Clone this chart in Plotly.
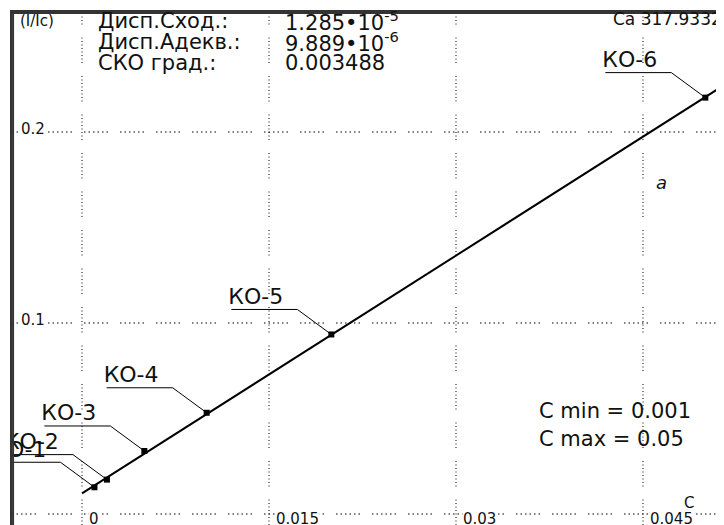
import numpy as np
import plotly.graph_objects as go

# ---------------- data ----------------
point_labels = ["КО-1", "КО-2", "КО-3", "КО-4", "КО-5", "КО-6"]
conc = [0.001, 0.002, 0.005, 0.010, 0.020, 0.050]
ratio = [0.014, 0.018, 0.033, 0.053, 0.094, 0.218]

x_ticks = [0, 0.015, 0.03, 0.045]
x_tick_labels = ["0", "0.015", "0.03", "0.045"]
y_ticks = [0, 0.1, 0.2]
y_tick_labels = ["", "0.1", "0.2"]

stat_names = ["Дисп.Сход.:", "Дисп.Адекв.:", "СКО град.:"]
stat_values = ["1.285•10<sup>-5</sup>", "9.889•10<sup>-6</sup>", "0.003488"]
line_name = "Ca 317.9332"
c_limits = ["C min = 0.001", "C max = 0.05"]
y_title = "(I/Ic)"
x_title = "C"
panel_tag = "a"

# ---------------- geometry ----------------
# page body has an 8px margin; plot area should span page px x 12..724, y 12..525
BODY = 8
W, H = 724 - BODY, 525 - BODY
ML, MT, MR, MB = 4, 4, 0, 0
PX0, PY0 = BODY + ML, BODY + MT
PW, PH = W - ML - MR, H - MT - MB
x_range = [-0.005615, 0.051496]
y_range = [-0.00576, 0.26283]
sx = PW / (x_range[1] - x_range[0])
sy = PH / (y_range[1] - y_range[0])

def px2data(px, py):
    return x_range[0] + (px - PX0) / sx, y_range[1] - (py - PY0) / sy

def data2px(x, y):
    return PX0 + (x - x_range[0]) * sx, PY0 + (y_range[1] - y) * sy

def pp(px, py):
    return (px - PX0) / PW, 1 - (py - PY0) / PH

FONT = "DejaVu Sans"
INK = "#111111"

fig = go.Figure()

# ---------------- grid ----------------
hdash = ",".join(["1.5px,3px"] * 5 + ["1.5px,12px"])
vdash = ",".join(["1px,2.5px"] * 7 + ["1px,13px"])
shapes = []
for xv in x_ticks:
    shapes.append(dict(type="line", xref="x", yref="paper", x0=xv, x1=xv, y0=0, y1=1,
                       line=dict(color="#000000", width=1, dash=vdash), layer="below"))
for yv in y_ticks:
    shapes.append(dict(type="line", xref="paper", yref="y", x0=0, x1=1, y0=yv, y1=yv,
                       line=dict(color="#000000", width=1, dash=hdash), layer="below"))
# frame (left and top)
shapes.append(dict(type="line", xref="paper", yref="paper", x0=0.0015, x1=0.0015, y0=0, y1=1,
                   line=dict(color="#333333", width=2)))
shapes.append(dict(type="line", xref="paper", yref="paper", x0=0, x1=1, y0=0.998, y1=0.998,
                   line=dict(color="#333333", width=2)))

# ---------------- regression line ----------------
slope, intercept = np.polyfit(conc, ratio, 1)
lx = np.array([0.0, x_range[1]])
fig.add_trace(go.Scatter(x=lx, y=slope * lx + intercept, mode="lines",
                         line=dict(color="#000000", width=2), hoverinfo="skip",
                         showlegend=False))

# ---------------- leader lines / underlines ----------------
LDX, LDY, ULEN = -34, -25, 66
lxs, lys, tx, ty = [], [], [], []
for x, y in zip(conc, ratio):
    px, py = data2px(x, y)
    rx, ry = px + LDX, py + LDY
    lx0 = rx - ULEN
    for (a, b) in [(lx0, ry), (rx, ry), (px, py)]:
        dx, dy = px2data(a, b)
        lxs.append(dx); lys.append(dy)
    lxs.append(None); lys.append(None)
    t = px2data(lx0 - 3, ry)
    tx.append(t[0]); ty.append(t[1])

fig.add_trace(go.Scatter(x=lxs, y=lys, mode="lines", line=dict(color="#000000", width=1),
                         hoverinfo="skip", showlegend=False))
fig.add_trace(go.Scatter(x=tx, y=ty, mode="text", text=point_labels,
                         textposition="top right", cliponaxis=True,
                         textfont=dict(family=FONT, size=22, color=INK),
                         hoverinfo="skip", showlegend=False))
fig.add_trace(go.Scatter(x=conc, y=ratio, mode="markers",
                         marker=dict(symbol="square", size=6, color="#000000"),
                         showlegend=False, hoverinfo="x+y"))

# ---------------- text ----------------
ann = []
def add_text(text, px, py, size, xanchor="left", italic=False, bg=None):
    x, y = pp(px, py)
    d = dict(xref="paper", yref="paper", x=x, y=y, text=text, showarrow=False,
             xanchor=xanchor, yanchor="middle", borderpad=0,
             font=dict(family=FONT, size=size, color=INK,
                       style="italic" if italic else "normal"))
    if bg:
        d["bgcolor"] = bg
    ann.append(d)

add_text(y_title, 19, 21, 15)
for i, (n, v) in enumerate(zip(stat_names, stat_values)):
    add_text(n, 97, 21 + 21 * i, 21)
    add_text(v, 284, 21 + 21 * i, 21)
add_text(line_name, 723, 19, 17, xanchor="right")
add_text(c_limits[0], 538, 411, 21)
add_text(c_limits[1], 538, 439, 21)
add_text(x_title, 689, 503, 15, xanchor="center")
add_text(panel_tag, 661, 182, 18, xanchor="center", italic=True)

for yv, lab in zip(y_ticks, y_tick_labels):
    if lab:
        _, py = data2px(0, yv)
        add_text(lab, 20, py - 3, 15, bg="white")
for xv, lab in zip(x_ticks, x_tick_labels):
    px, py = data2px(xv, 0)
    add_text(lab, px + 6, py + 5, 15, bg="white")

fig.update_layout(
    width=W, height=H,
    margin=dict(l=ML, r=MR, t=MT, b=MB),
    paper_bgcolor="white", plot_bgcolor="white",
    xaxis=dict(range=x_range, fixedrange=True, showgrid=False, zeroline=False,
               showticklabels=False, ticks="", side="top",
               showline=True, linecolor="#333333", linewidth=2),
    yaxis=dict(range=y_range, fixedrange=True, showgrid=False, zeroline=False,
               showticklabels=False, ticks="",
               showline=True, linecolor="#333333", linewidth=2),
    shapes=shapes, annotations=ann, showlegend=False,
)
fig.write_html("out.html")
